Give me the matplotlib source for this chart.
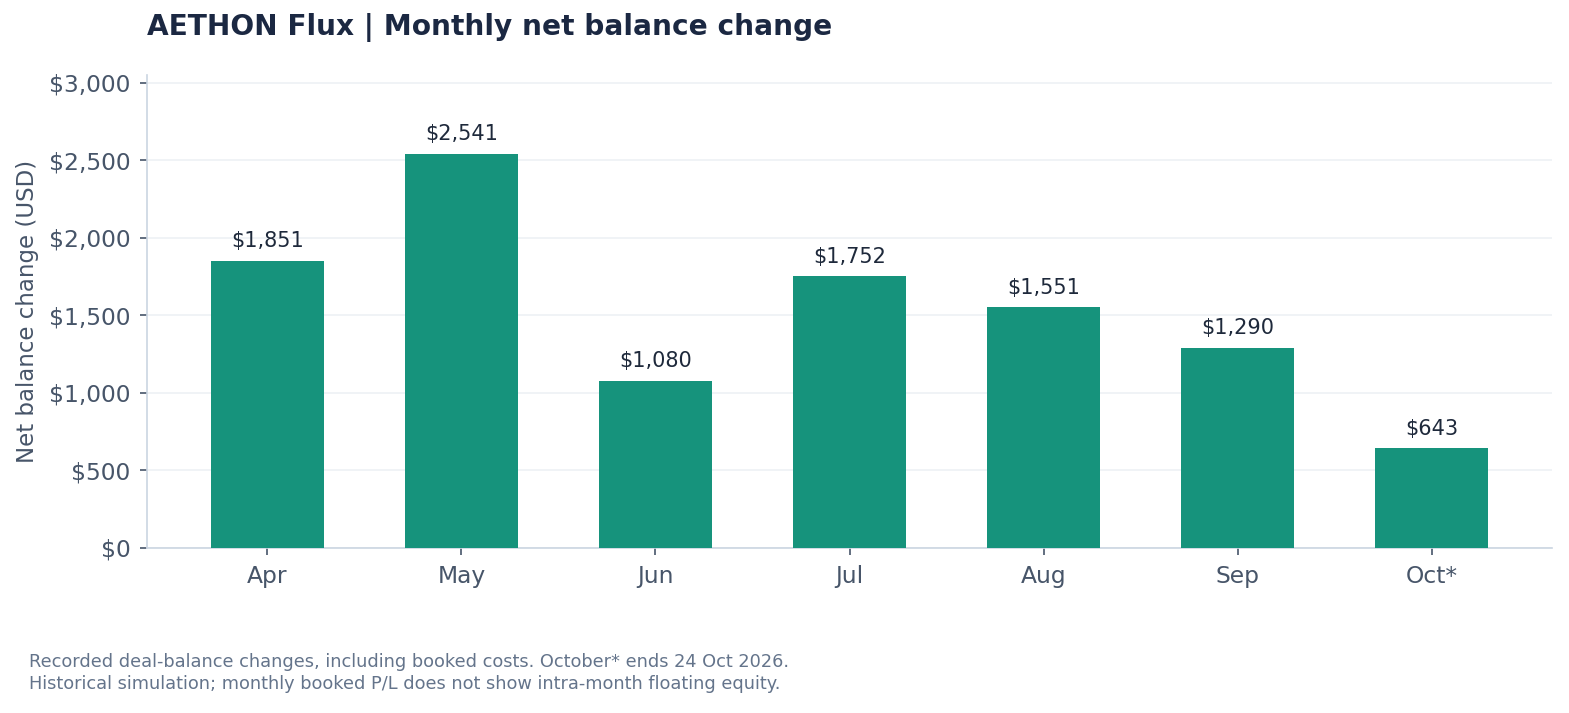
import matplotlib.pyplot as plt
from matplotlib.ticker import FuncFormatter

months = ['Apr', 'May', 'Jun', 'Jul', 'Aug', 'Sep', 'Oct*']
net_change = [1851, 2541, 1080, 1752, 1551, 1290, 643]

bar_color = '#16937c'
title_color = '#1b2842'
tick_color = '#475569'
note_color = '#64748b'

fig = plt.figure(figsize=(15.69, 7.13), dpi=100)
ax = fig.add_axes([147 / 1569, 1 - 548 / 713, (1552 - 147) / 1569, (548 - 75) / 713])

x = range(len(months))
bars = ax.bar(x, net_change, width=0.58, color=bar_color, zorder=3)

for b, v in zip(bars, net_change):
    ax.annotate(f'${v:,.0f}', (b.get_x() + b.get_width() / 2, v),
                xytext=(0, 7), textcoords='offset points',
                ha='center', va='bottom', fontsize=15, color='#1e293b')

ax.set_xlim(-0.62, len(months) - 1 + 0.62)
ax.set_ylim(0, 3050)
ax.set_yticks([0, 500, 1000, 1500, 2000, 2500, 3000])
ax.yaxis.set_major_formatter(FuncFormatter(lambda v, _: f'${v:,.0f}'))
ax.set_xticks(list(x))
ax.set_xticklabels(months)

ax.grid(axis='y', color='#eef1f5', linewidth=1.2, zorder=0)
for s in ['top', 'right']:
    ax.spines[s].set_visible(False)
for s in ['left', 'bottom']:
    ax.spines[s].set_color('#cbd5e1')
    ax.spines[s].set_linewidth(1.2)
ax.tick_params(axis='both', colors=tick_color, labelsize=16.8, length=5, width=1.2)
ax.tick_params(axis='y', pad=7)
ax.tick_params(axis='x', pad=7)

ax.set_ylabel('Net balance change (USD)', fontsize=16.5, color=tick_color, labelpad=7)

fig.text(147 / 1569, 1 - 28 / 713, 'AETHON Flux | Monthly net balance change',
         fontsize=20.2, fontweight='bold', color=title_color, va='center', ha='left')

fig.text(29 / 1569, 1 - 662 / 713,
         'Recorded deal-balance changes, including booked costs. October* ends 24 Oct 2026.',
         fontsize=12.8, color=note_color, va='center', ha='left')
fig.text(29 / 1569, 1 - 684 / 713,
         'Historical simulation; monthly booked P/L does not show intra-month floating equity.',
         fontsize=12.8, color=note_color, va='center', ha='left')

fig.savefig('out.png', dpi=100)
